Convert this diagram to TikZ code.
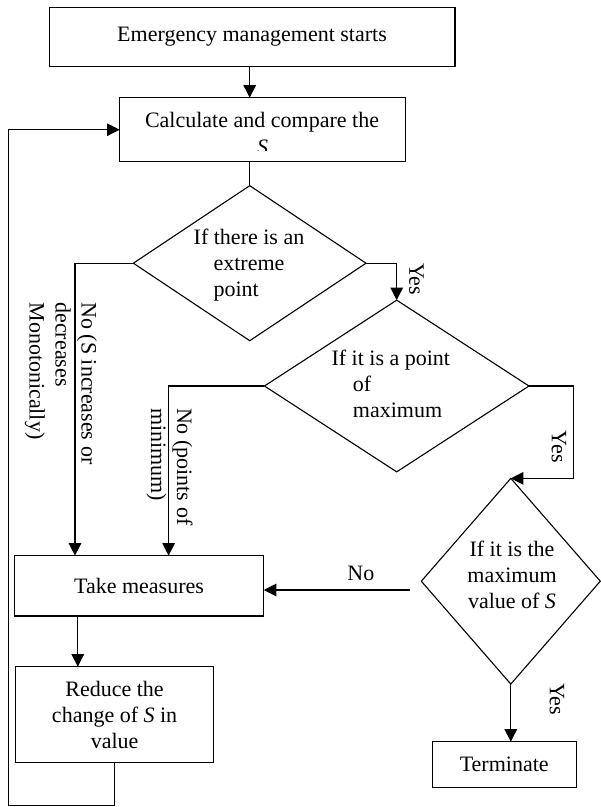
\documentclass[tikz,border=0pt]{standalone}
\usepackage{fontspec}
\setmainfont{Liberation Serif}
\usetikzlibrary{shapes.geometric,arrows.meta}
\begin{document}
\begin{tikzpicture}[x=1pt,y=-1pt,
  every node/.style={font=\fontsize{22}{26}\selectfont, inner sep=0pt, outer sep=0pt},
  procbox/.style={draw, line width=1.1pt, rectangle, align=center},
  decision/.style={draw, line width=1.1pt, diamond},
  conn/.style={line width=1.1pt},
  arr/.style={line width=1.1pt, -{Triangle[length=12.5pt,width=12.5pt]}},
  vlab/.style={rotate=-90, align=left},
  txt/.style={align=center}
]
\useasboundingbox (0,0) rectangle (601,807);
% boxes
\node[procbox, minimum width=405.9pt, minimum height=59.4pt] (start) at (252.05,37) {Emergency management starts};
\node[procbox, minimum width=285.5pt, minimum height=64pt] (calcbox) at (262.35,129.7) {};
\node (calct) at (262,122.7) {Calculate and compare the};
\begin{scope}
  \clip (119.6,97.7) rectangle (405.1,150.7);
  \node[anchor=base] (calcs) at (262.5,154.6) {\textit{S}};
\end{scope}
\node[decision, minimum width=232.7pt, minimum height=155pt] (d1) at (249.7,263.2) {};
\node[txt] (d1t) at (249,265) {If there is an\\extreme\\point\hspace{25.7pt}\mbox{}};
\node[decision, minimum width=264.5pt, minimum height=171.7pt] (d2) at (396.7,386) {};
\node[txt] (d2t) at (390.8,384) {If it is a point\\\hspace*{13.6pt}of\hspace{70.9pt}\mbox{}\\\hspace*{13.6pt}maximum};
\node[decision, minimum width=179pt, minimum height=205.7pt] (d3) at (510.8,581.2) {};
\node[txt] (d3t) at (512,575) {If it is the\\maximum\\value of \textit{S}};
\node[procbox, minimum width=249.5pt, minimum height=60.3pt] (tm) at (139,585.8) {Take measures};
\node[procbox, minimum width=197.8pt, minimum height=95.6pt] (rd) at (114.6,714.5) {Reduce the\\change of \textit{S} in\\value};
\node[procbox, minimum width=143.7pt, minimum height=45.6pt] (tt) at (504.2,764.5) {Terminate};
% labels
\node[vlab] (lno1) at (60.8,383.4) {No (S increases or\\decreases\\Monotonically)};
\node[vlab] (lno2) at (169.6,466.7) {No (points of\\minimum)};
\node[rotate=-90] (y1) at (416.5,279) {Yes};
\node[rotate=-90] (y2) at (559,446.7) {Yes};
\node[rotate=-90] (y3) at (557,699) {Yes};
\node (nolab) at (360.9,573.3) {No};
% connectors
\draw[arr] (start.south -| d1.north) -- (calcbox.north -| d1.north);
\draw[conn] (calcbox.south -| d1.north) -- (d1.north);
\draw[arr] (d1.west) -| ([xshift=60.75pt]tm.north west);
\draw[arr] (d1.east) -| (d2.north);
\draw[arr] (d2.west) -| ([xshift=154.35pt]tm.north west);
\coordinate (k2) at (573.8,478.35);
\draw[arr] (d2.east) -| (k2) -- (d3.north);
\coordinate (n0) at (410.1,590);
\draw[arr] (n0) -- (n0 -| tm.east);
\draw[arr] (d3.south) -- (d3.south |- tt.north);
\coordinate (t1) at ([xshift=63.55pt]tm.south west);
\draw[arr] (t1) -- (t1 |- rd.north);
\coordinate (lp) at (8.4,805.7);
\draw[arr] (rd.south) |- (lp) |- (calcbox.west);
\end{tikzpicture}
\end{document}
